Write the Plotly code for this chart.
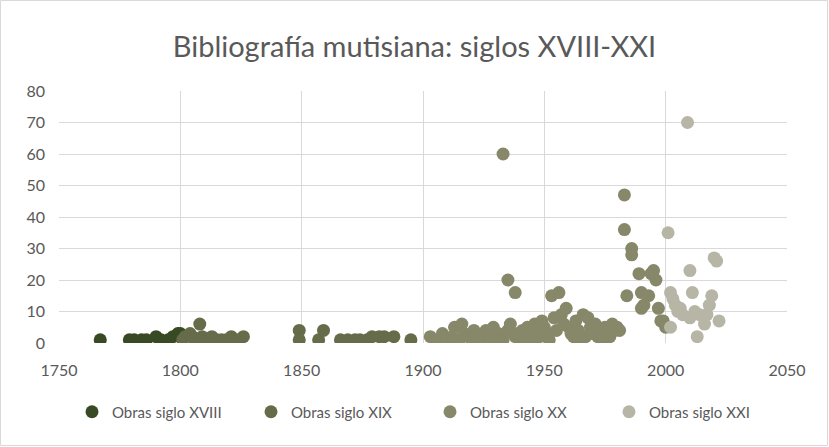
import plotly.graph_objects as go

title = "Bibliografía mutisiana: siglos XVIII-XXI"
series_names = ["Obras siglo XVIII", "Obras siglo XIX", "Obras siglo XX", "Obras siglo XXI"]
colors = ["#384A23", "#666B4A", "#878769", "#B7B6A6"]

years_18 = [1767, 1779, 1781, 1784, 1786, 1790, 1792, 1795, 1797, 1799, 1800]
vals_18 = [1, 1, 1, 1, 1, 2, 1, 1, 2, 3, 3]

years_19 = [1801, 1802, 1804, 1805, 1806, 1808, 1809, 1811, 1813, 1815, 1817, 1819, 1821,
            1824, 1826, 1849, 1849, 1857, 1859, 1866, 1869, 1872, 1874, 1877, 1879, 1882,
            1884, 1888, 1895]
vals_19 = [1, 2, 3, 2, 1, 6, 2, 1, 2, 1, 1, 1, 2,
           1, 2, 4, 1, 1, 4, 1, 1, 1, 1, 1, 2, 2,
           2, 2, 1]

years_20 = [1903, 1906, 1908, 1910, 1912, 1913, 1915, 1916, 1917, 1919, 1920, 1921, 1922,
            1924, 1925, 1926, 1928, 1929, 1930, 1931, 1933, 1933, 1935, 1935, 1936, 1938,
            1938, 1939, 1940, 1941, 1942, 1943, 1944, 1945, 1946, 1947, 1948, 1949, 1950,
            1951, 1952, 1953, 1954, 1955, 1956, 1957, 1958, 1959, 1960, 1961, 1962, 1963,
            1964, 1965, 1966, 1967, 1968, 1969, 1970, 1971, 1972, 1973, 1974, 1975, 1976,
            1977, 1978, 1979, 1980, 1981, 1983, 1983, 1984, 1986, 1986, 1989, 1990, 1990,
            1991, 1993, 1994, 1995, 1996, 1997, 1998, 1999, 2000]
vals_20 = [2, 1, 3, 1, 2, 5, 1, 6, 3, 2, 1, 4, 2,
           1, 3, 4, 1, 5, 2, 3, 60, 1, 20, 4, 6, 16,
           2, 3, 1, 4, 2, 5, 3, 1, 6, 4, 2, 7, 5,
           3, 1, 15, 8, 4, 16, 9, 6, 11, 5, 3, 2, 7,
           4, 1, 9, 2, 8, 5, 3, 6, 2, 4, 1, 5, 3,
           2, 6, 4, 5, 4, 36, 47, 15, 30, 28, 22, 16, 11,
           12, 15, 22, 23, 20, 11, 7, 7, 5]

years_21 = [2001, 2002, 2002, 2003, 2004, 2005, 2006, 2007, 2009, 2010, 2010, 2011, 2012,
            2013, 2014, 2016, 2017, 2018, 2019, 2020, 2021, 2022]
vals_21 = [35, 5, 16, 14, 12, 10, 11, 9, 70, 23, 8, 16, 10,
           2, 9, 6, 9, 12, 15, 27, 26, 7]

x_ticks = [1750, 1800, 1850, 1900, 1950, 2000, 2050]
y_ticks = [0, 10, 20, 30, 40, 50, 60, 70, 80]

font_family = "Lato, 'Open Sans', sans-serif"
grid_color = "#D9D9D9"
text_color = "#595959"

fig = go.Figure()
for name, color, xs, ys in zip(series_names, colors,
                               [years_18, years_19, years_20, years_21],
                               [vals_18, vals_19, vals_20, vals_21]):
    fig.add_trace(go.Scatter(
        x=xs, y=ys, mode="markers", name=name,
        marker=dict(size=13, color=color, line=dict(width=0)),
    ))

W, H = 829, 447
ml, mr, mt, mb = 59, 42, 91, 104
pw, ph = W - ml - mr, H - mt - mb

fig.update_layout(
    width=W, height=H,
    margin=dict(l=ml, r=mr, t=mt, b=mb, pad=0),
    paper_bgcolor="white", plot_bgcolor="white",
    font=dict(family=font_family, color=text_color, size=15),
    title=dict(text=title, x=0.5, xanchor="center", y=1 - 47 / H, yanchor="middle",
               font=dict(size=29, color=text_color, family=font_family)),
    xaxis=dict(range=[1750, 2050], tickvals=x_ticks, showgrid=True, gridcolor=grid_color,
               gridwidth=1, zeroline=False, showline=False, ticks="",
               ticklabelstandoff=16,
               tickfont=dict(size=16, color=text_color)),
    yaxis=dict(range=[0, 80], tickvals=y_ticks, showgrid=True, gridcolor=grid_color,
               gridwidth=1, zeroline=False, showline=False, ticks="",
               ticklabelstandoff=13,
               tickfont=dict(size=16, color=text_color)),
    legend=dict(orientation="h", x=(430 - ml) / pw, xanchor="center",
                y=-(412 - 343) / ph, yanchor="middle",
                font=dict(size=15, color=text_color), itemwidth=30, traceorder="normal",
                entrywidth=134, entrywidthmode="pixels"),
    showlegend=True,
    shapes=[dict(type="rect", xref="paper", yref="paper",
                 x0=-(ml - 0.5) / pw, x1=1 + (mr - 1.5) / pw,
                 y0=-(mb - 1.5) / ph, y1=1 + (mt - 0.5) / ph,
                 line=dict(color=grid_color, width=1), fillcolor="rgba(0,0,0,0)", layer="below")],
)

fig.write_html("out.html", config={"displayModeBar": False},
               post_script="document.body.style.margin='0';document.body.style.overflow='hidden';")
